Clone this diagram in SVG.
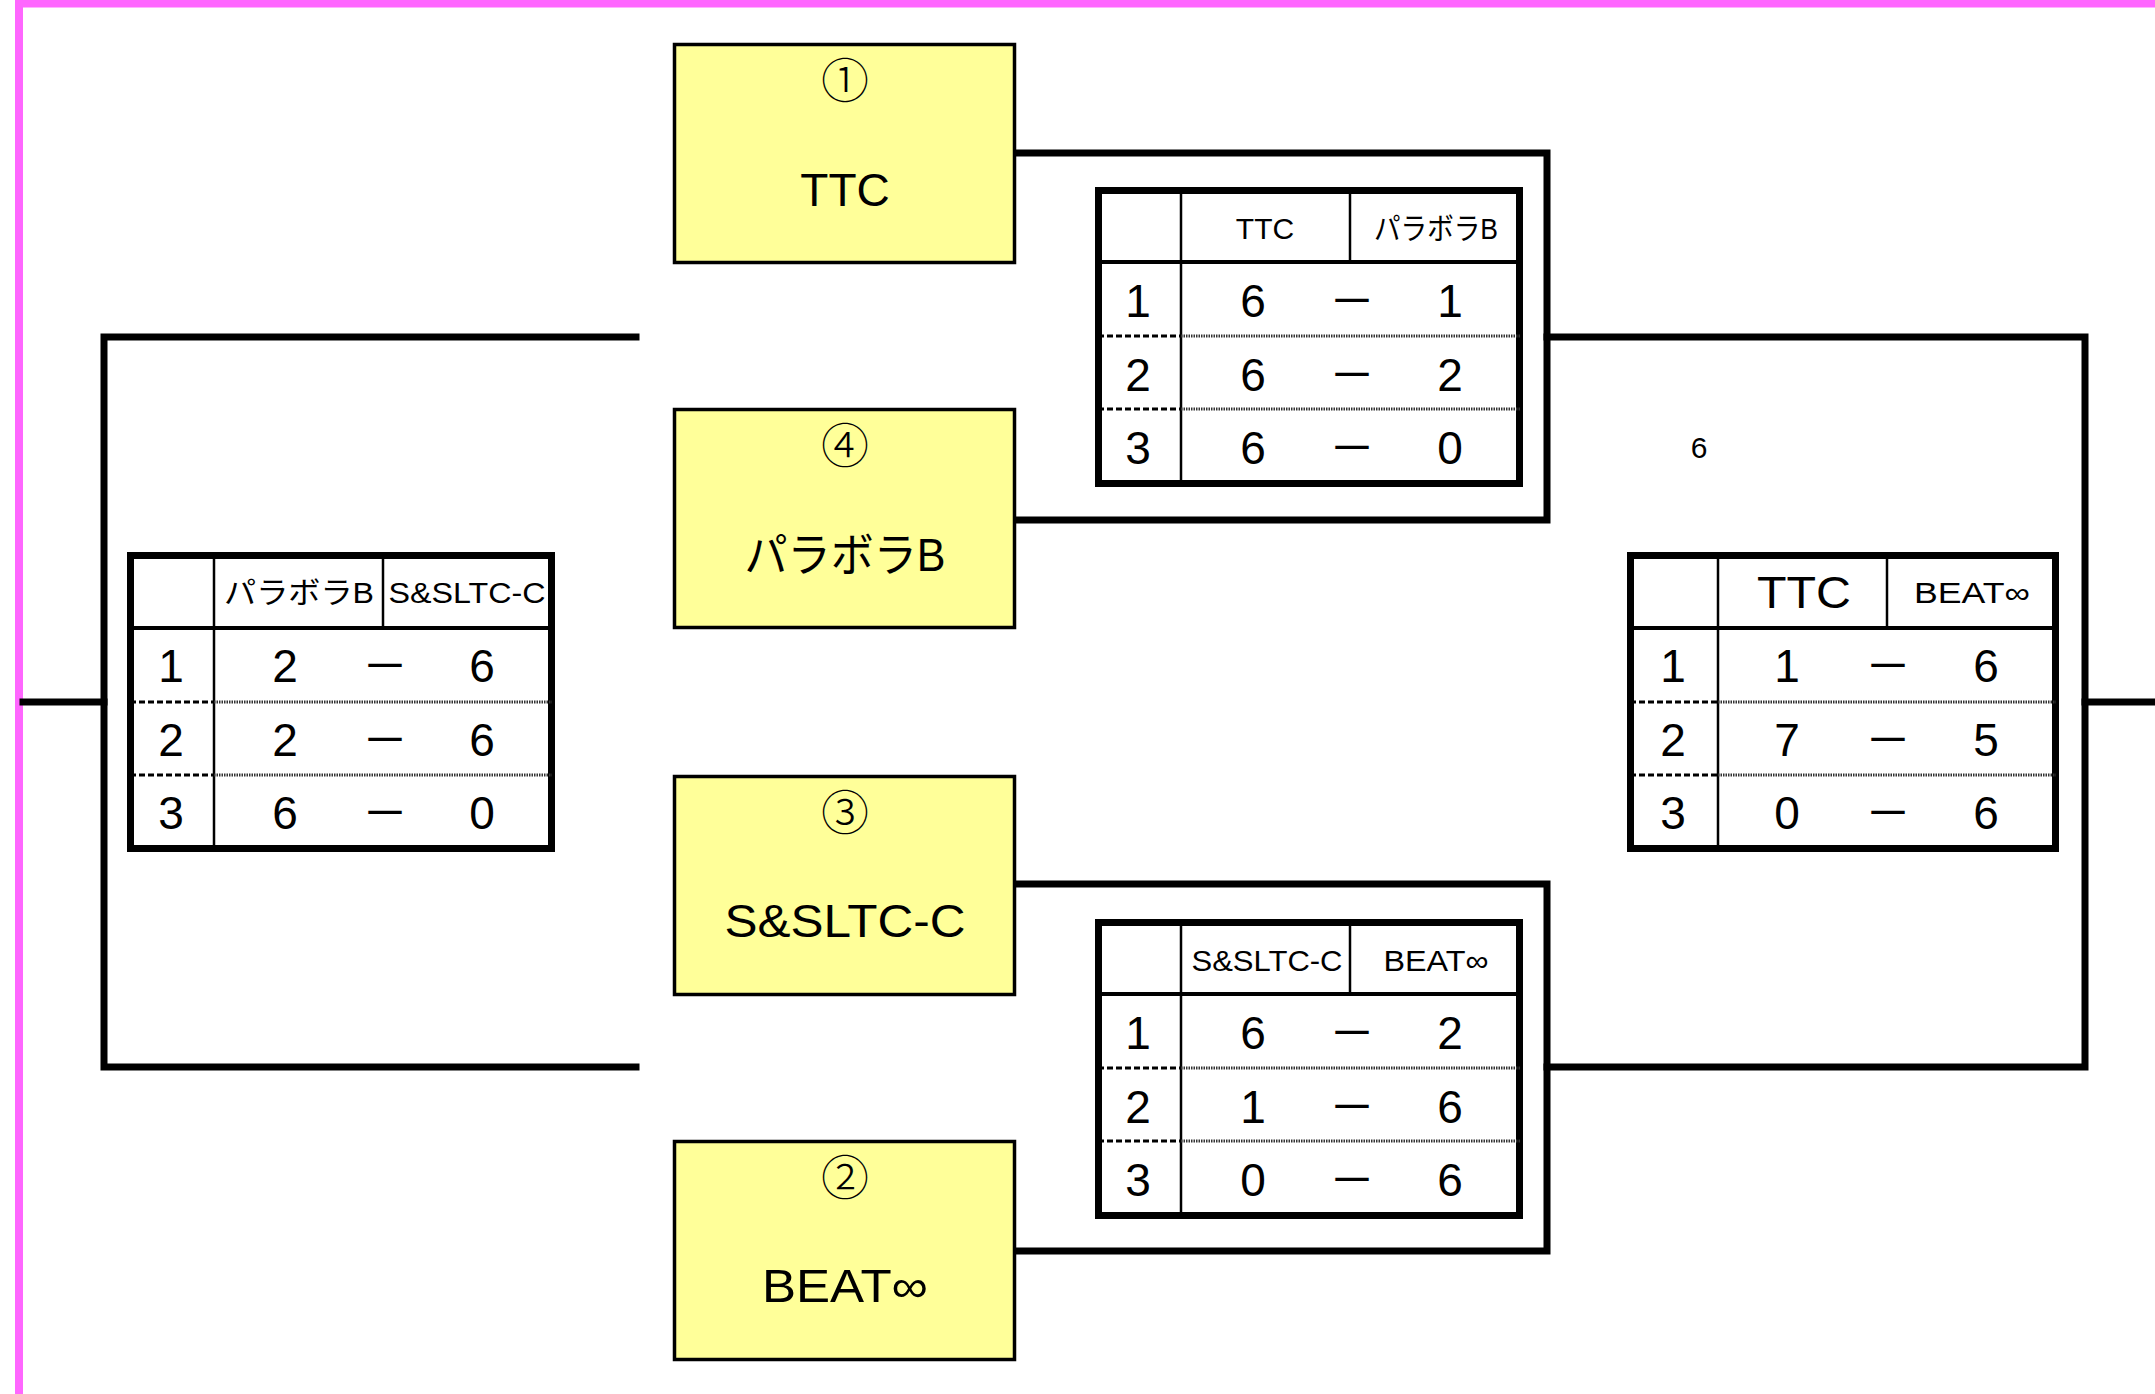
<svg xmlns="http://www.w3.org/2000/svg" width="2155" height="1394" viewBox="0 0 2155 1394">
<style>
text{font-family:"Liberation Sans","Noto Sans CJK JP",sans-serif;fill:#000;text-anchor:middle}
.box{fill:#FFFF99;stroke:#000;stroke-width:3.5}
.num{font-size:48px;font-family:"Noto Sans CJK JP",sans-serif;font-weight:300}
.name{font-size:46px}
.conn{fill:none;stroke:#000;stroke-width:7;stroke-linejoin:miter;stroke-linecap:square}
.tout{fill:#fff;stroke:#000;stroke-width:7}
.thin{stroke:#000;stroke-width:2.5}
.hbot{stroke:#000;stroke-width:4}
.dashA{stroke:#000;stroke-width:3;stroke-dasharray:6,3}
.dashB{stroke:#333;stroke-width:3;stroke-dasharray:1.5,1}
.hd{font-size:30px}
.sc{font-size:46px}
</style>
<rect x="15" y="0" width="2140" height="7.5" fill="#FF66FF"/>
<rect x="15" y="0" width="8" height="1394" fill="#FF66FF"/>

<g id="connectors">
<path class="conn" d="M1016,153 H1547 V520 H1016"/>
<path class="conn" d="M1016,884 H1547 V1251 H1016"/>
<path class="conn" d="M1547,337 H2085 V1067 H1547"/>
<path class="conn" d="M636,337 H104 V1067 H636"/>
<path class="conn" d="M23,702 H104"/>
<path class="conn" d="M2085,702 H2155"/>
</g>

<g id="team1">
<rect class="box" x="674.5" y="44.5" width="340" height="218"/>
<text class="num" x="845" y="98">①</text>
<text class="name" x="845" y="206">TTC</text>
</g>
<g id="team4">
<rect class="box" x="674.5" y="409.5" width="340" height="218"/>
<text class="num" x="845" y="463">④</text>
<text class="name" x="845" y="571" textLength="201" lengthAdjust="spacingAndGlyphs">パラボラB</text>
</g>
<g id="team3">
<rect class="box" x="674.5" y="776.5" width="340" height="218"/>
<text class="num" x="845" y="830">③</text>
<text class="name" x="845" y="937" textLength="241" lengthAdjust="spacingAndGlyphs">S&amp;SLTC-C</text>
</g>
<g id="team2">
<rect class="box" x="674.5" y="1141.5" width="340" height="218"/>
<text class="num" x="845" y="1195">②</text>
<text class="name" x="845" y="1302" textLength="166" lengthAdjust="spacingAndGlyphs">BEAT∞</text>
</g>

<g id="table-semi1">
<rect class="tout" x="1098.5" y="190.5" width="421" height="293"/>
<line class="thin" x1="1181" y1="190" x2="1181" y2="481"/>
<line class="thin" x1="1350" y1="190" x2="1350" y2="262"/>
<line class="hbot" x1="1098" y1="262" x2="1520" y2="262"/>
<line class="dashA" x1="1098" y1="336" x2="1181" y2="336"/>
<line class="dashB" x1="1181" y1="336" x2="1520" y2="336"/>
<line class="dashA" x1="1098" y1="409" x2="1181" y2="409"/>
<line class="dashB" x1="1181" y1="409" x2="1520" y2="409"/>
<text class="hd" x="1265" y="239">TTC</text>
<text class="hd" x="1436" y="239" textLength="124" lengthAdjust="spacingAndGlyphs">パラボラB</text>
<text class="sc" x="1138" y="317">1</text><text class="sc" x="1253" y="317">6</text><text class="sc" x="1352" y="317">－</text><text class="sc" x="1450" y="317">1</text>
<text class="sc" x="1138" y="391">2</text><text class="sc" x="1253" y="391">6</text><text class="sc" x="1352" y="391">－</text><text class="sc" x="1450" y="391">2</text>
<text class="sc" x="1138" y="464">3</text><text class="sc" x="1253" y="464">6</text><text class="sc" x="1352" y="464">－</text><text class="sc" x="1450" y="464">0</text>
</g>

<g id="table-semi2">
<rect class="tout" x="1098.5" y="922.5" width="421" height="293"/>
<line class="thin" x1="1181" y1="922" x2="1181" y2="1213"/>
<line class="thin" x1="1350" y1="922" x2="1350" y2="994"/>
<line class="hbot" x1="1098" y1="994" x2="1520" y2="994"/>
<line class="dashA" x1="1098" y1="1068" x2="1181" y2="1068"/>
<line class="dashB" x1="1181" y1="1068" x2="1520" y2="1068"/>
<line class="dashA" x1="1098" y1="1141" x2="1181" y2="1141"/>
<line class="dashB" x1="1181" y1="1141" x2="1520" y2="1141"/>
<text class="hd" x="1267" y="971" textLength="151" lengthAdjust="spacingAndGlyphs">S&amp;SLTC-C</text>
<text class="hd" x="1436" y="971" textLength="105" lengthAdjust="spacingAndGlyphs">BEAT∞</text>
<text class="sc" x="1138" y="1049">1</text><text class="sc" x="1253" y="1049">6</text><text class="sc" x="1352" y="1049">－</text><text class="sc" x="1450" y="1049">2</text>
<text class="sc" x="1138" y="1123">2</text><text class="sc" x="1253" y="1123">1</text><text class="sc" x="1352" y="1123">－</text><text class="sc" x="1450" y="1123">6</text>
<text class="sc" x="1138" y="1196">3</text><text class="sc" x="1253" y="1196">0</text><text class="sc" x="1352" y="1196">－</text><text class="sc" x="1450" y="1196">6</text>
</g>

<g id="table-third">
<rect class="tout" x="130.5" y="555.5" width="421" height="293"/>
<line class="thin" x1="214" y1="555" x2="214" y2="846"/>
<line class="thin" x1="383" y1="555" x2="383" y2="628"/>
<line class="hbot" x1="130" y1="628" x2="552" y2="628"/>
<line class="dashA" x1="130" y1="702" x2="214" y2="702"/>
<line class="dashB" x1="214" y1="702" x2="552" y2="702"/>
<line class="dashA" x1="130" y1="775" x2="214" y2="775"/>
<line class="dashB" x1="214" y1="775" x2="552" y2="775"/>
<text class="hd" x="299" y="603" textLength="150" lengthAdjust="spacingAndGlyphs">パラボラB</text>
<text class="hd" x="467" y="603" textLength="157" lengthAdjust="spacingAndGlyphs">S&amp;SLTC-C</text>
<text class="sc" x="171" y="682">1</text><text class="sc" x="285" y="682">2</text><text class="sc" x="385" y="682">－</text><text class="sc" x="482" y="682">6</text>
<text class="sc" x="171" y="756">2</text><text class="sc" x="285" y="756">2</text><text class="sc" x="385" y="756">－</text><text class="sc" x="482" y="756">6</text>
<text class="sc" x="171" y="829">3</text><text class="sc" x="285" y="829">6</text><text class="sc" x="385" y="829">－</text><text class="sc" x="482" y="829">0</text>
</g>

<g id="table-final">
<rect class="tout" x="1630.5" y="555.5" width="425" height="293"/>
<line class="thin" x1="1718" y1="555" x2="1718" y2="846"/>
<line class="thin" x1="1887" y1="555" x2="1887" y2="628"/>
<line class="hbot" x1="1630" y1="628" x2="2056" y2="628"/>
<line class="dashA" x1="1630" y1="702" x2="1718" y2="702"/>
<line class="dashB" x1="1718" y1="702" x2="2056" y2="702"/>
<line class="dashA" x1="1630" y1="775" x2="1718" y2="775"/>
<line class="dashB" x1="1718" y1="775" x2="2056" y2="775"/>
<text x="1804" y="608" font-size="44" textLength="94" lengthAdjust="spacingAndGlyphs">TTC</text>
<text class="hd" x="1972" y="603" textLength="116" lengthAdjust="spacingAndGlyphs">BEAT∞</text>
<text class="sc" x="1673" y="682">1</text><text class="sc" x="1787" y="682">1</text><text class="sc" x="1888" y="682">－</text><text class="sc" x="1986" y="682">6</text>
<text class="sc" x="1673" y="756">2</text><text class="sc" x="1787" y="756">7</text><text class="sc" x="1888" y="756">－</text><text class="sc" x="1986" y="756">5</text>
<text class="sc" x="1673" y="829">3</text><text class="sc" x="1787" y="829">0</text><text class="sc" x="1888" y="829">－</text><text class="sc" x="1986" y="829">6</text>
</g>

<text x="1699" y="458" font-size="30">6</text>
</svg>
